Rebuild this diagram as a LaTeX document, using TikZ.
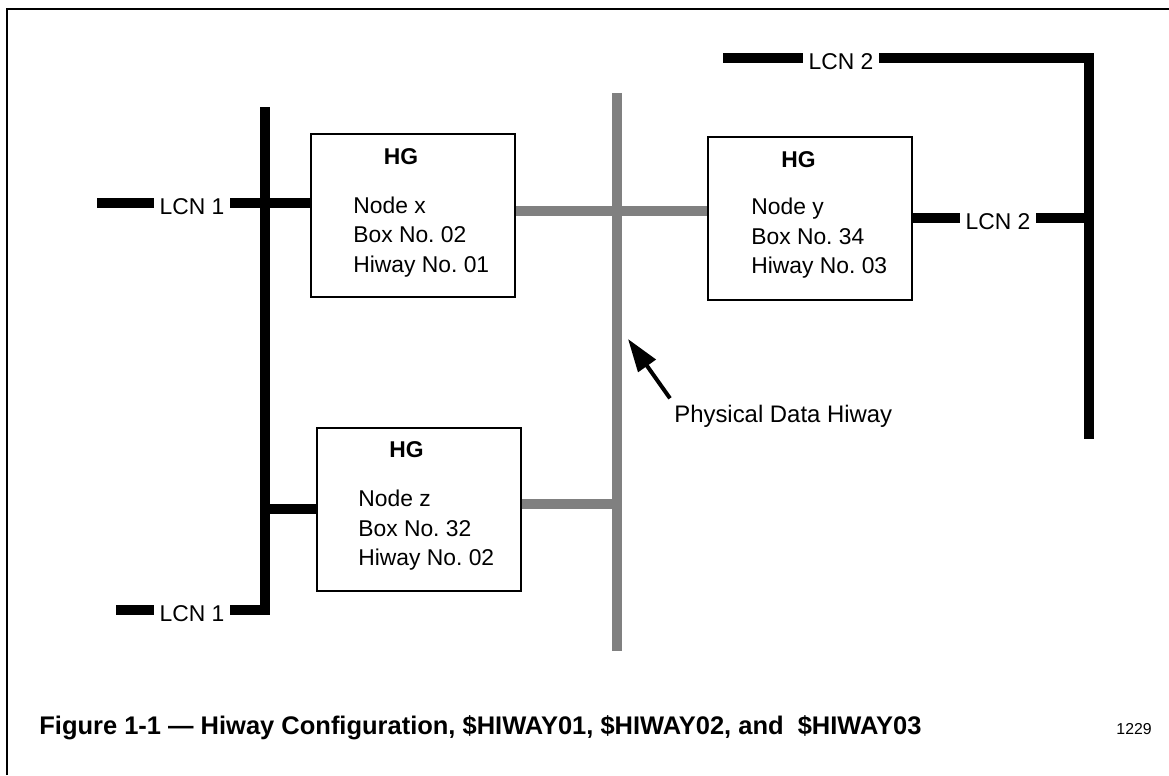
\documentclass[tikz,border=0pt]{standalone}
\usepackage{fontspec}
\setmainfont{Liberation Sans}
\usepackage{tikz}
\usetikzlibrary{calc,arrows.meta}
\frenchspacing
\definecolor{ink}{HTML}{000000}
\definecolor{hiway}{HTML}{808080}
\tikzset{
  frame/.style={draw=ink, line width=0.04cm},
  lcnbus/.style={draw=ink, line width=0.2cm},
  hiwaybus/.style={draw=hiway, line width=0.2cm},
  hgbox/.style={draw=ink, fill=white, line width=0.04cm, minimum width=4.08cm, minimum height=3.26cm, inner sep=0pt},
  lab/.style={text=ink, font=\fontsize{13}{16.75}\selectfont},
  lcn/.style={lab, inner xsep=0.11cm, inner ysep=0pt, text height=12.7pt, text depth=0pt},
  hg/.style={text=ink, font=\fontsize{13}{16.75}\selectfont\bfseries, inner sep=0pt, anchor=base},
  info/.style={lab, align=left, inner sep=0pt, anchor=north west},
  pointer/.style={draw=ink, line width=0.08cm, -{Triangle[length=0.66cm,width=0.42cm]}},
}

\begin{document}
\begin{tikzpicture}
  \useasboundingbox (0,0) rectangle (23.38,15.5);
  \draw[frame] (0.14,0) -- (0.14,15.32) -- (23.38,15.32);

  % data hiway
  \coordinate (hwtop) at (12.34,13.64);
  \coordinate (hwbot) at (12.34,2.48);
  \coordinate (hwx) at (12.34,11.28);
  \coordinate (hwz) at (12.34,5.42);
  \draw[hiwaybus] (hwtop) -- (hwbot);

  % HG boxes
  \node[hgbox] (boxx) at (8.26,11.19) {};
  \node[hgbox] (boxy) at (16.20,11.13) {};
  \node[hgbox] (boxz) at (8.38,5.31) {};
  \node[hg] at ($(boxx.north west)+(1.82,-0.64)$) {HG};
  \node[hg] at ($(boxy.north west)+(1.83,-0.64)$) {HG};
  \node[hg] at ($(boxz.north west)+(1.81,-0.62)$) {HG};
  \node[info] at ($(boxx.north west)+(0.86,-1.27)$) {Node x\\Box No. 02\\Hiway No. 01};
  \node[info] at ($(boxy.north west)+(0.88,-1.24)$) {Node y\\Box No. 34\\Hiway No. 03};
  \node[info] at ($(boxz.north west)+(0.84,-1.26)$) {Node z\\Box No. 32\\Hiway No. 02};

  \draw[hiwaybus] (hwx -| boxx.east) -- (hwx -| boxy.west);
  \draw[hiwaybus] (hwz -| boxz.east) -- (hwz);

  % LCN 1
  \coordinate (bus1top) at (5.30,13.36);
  \node[lcn] (lcn1a) at (3.84,11.44) {LCN 1};
  \node[lcn] (lcn1b) at (3.84,3.29) {LCN 1};
  \coordinate (lcn1aend) at (1.94,11.44);
  \coordinate (lcn1bend) at (2.32,3.29);
  \draw[lcnbus] (lcn1aend) -- (lcn1a.west);
  \draw[lcnbus] (lcn1a.east) -- (lcn1a.east -| boxx.west);
  \draw[lcnbus] (lcn1bend) -- (lcn1b.west);
  \draw[lcnbus] (lcn1b.east) -- (lcn1b.east -| bus1top) -- (bus1top);
  \draw[lcnbus] (boxz.west -| bus1top) -- (boxz.west);

  % LCN 2
  \coordinate (bus2bot) at (21.78,6.72);
  \node[lcn] (lcn2a) at (16.82,14.33) {LCN 2};
  \node[lcn] (lcn2b) at (19.96,11.13) {LCN 2};
  \coordinate (lcn2aend) at (14.46,14.33);
  \draw[lcnbus] (lcn2aend) -- (lcn2a.west);
  \draw[lcnbus] (lcn2a.east) -- (lcn2a.east -| bus2bot) -- (bus2bot);
  \draw[lcnbus] (boxy.east) -- (lcn2b.west);
  \draw[lcnbus] (lcn2b.east) -- (lcn2b.east -| bus2bot);

  \node[lab, font=\fontsize{13.6}{16.75}\selectfont, anchor=base west, inner sep=0pt] (phys) at (13.48,7.04) {Physical Data Hiway};
  \coordinate (pdtip) at (12.56,8.72);
  \draw[pointer] ($(phys.north west)+(-0.08,0.14)$) -- (pdtip);

  \node[anchor=base west, inner sep=0pt, font=\fontsize{14.5}{17}\selectfont\bfseries] (caption) at (0.78,0.80)
    {Figure 1-1 — Hiway Configuration, \$HIWAY01, \$HIWAY02, and\ \ \$HIWAY03};
  \node[anchor=base east, inner sep=0pt, font=\fontsize{9}{11}\selectfont] (figno) at (23.04,0.80) {1229};
\end{tikzpicture}
\end{document}
